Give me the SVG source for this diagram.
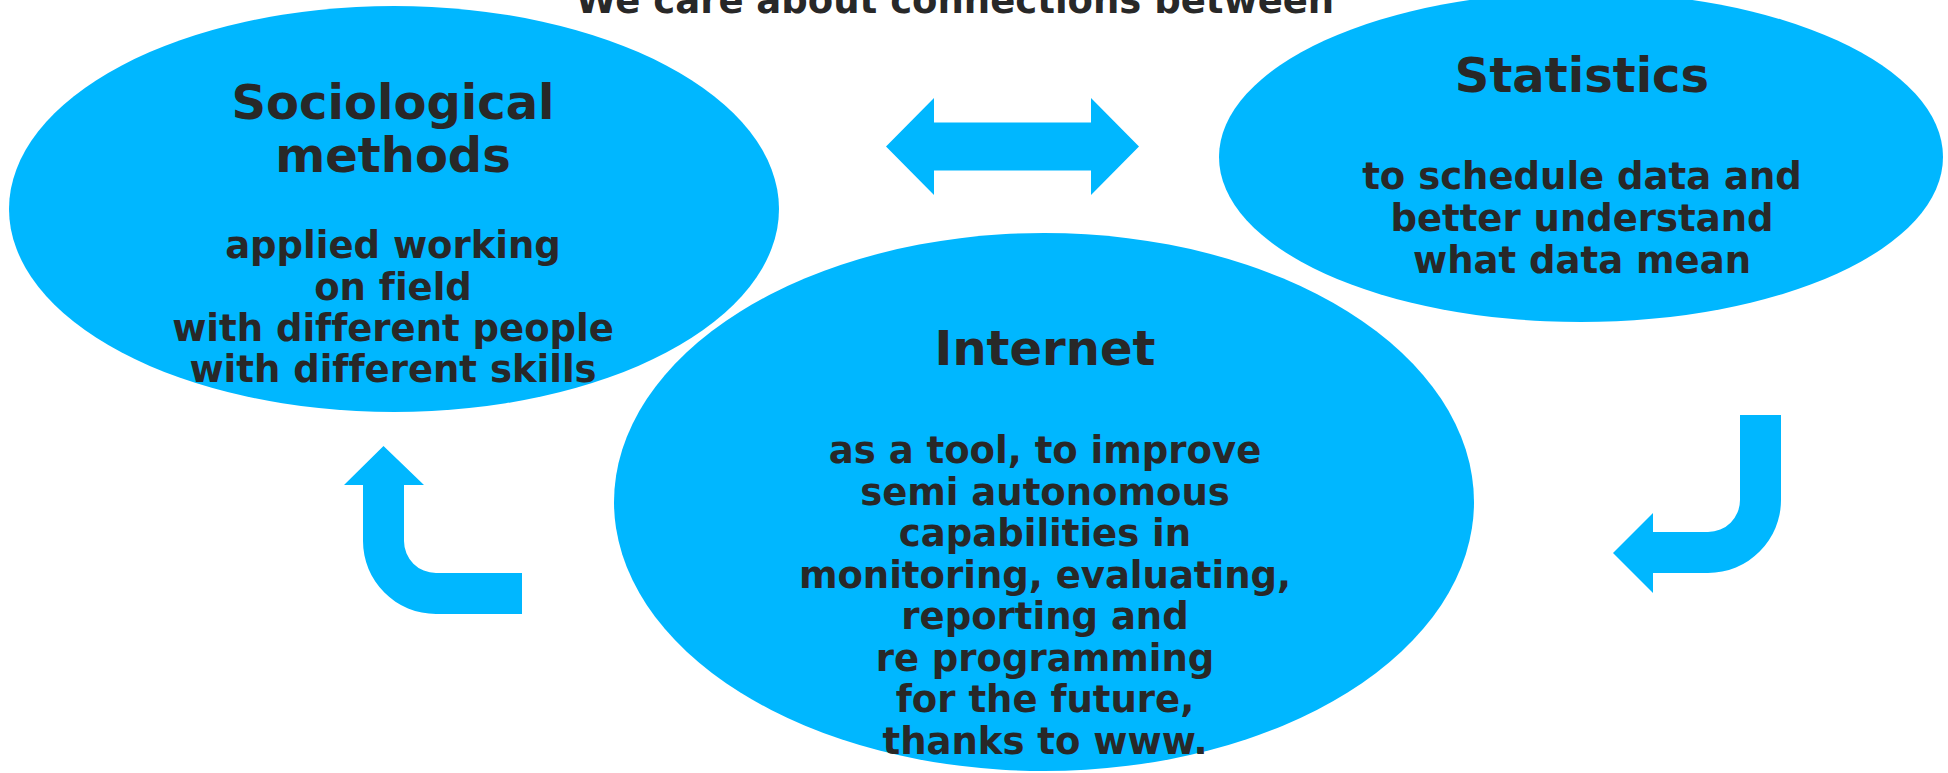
<svg xmlns="http://www.w3.org/2000/svg" width="1948" height="773" viewBox="0 0 1948 773">
<style>
.node{fill:#00B7FF}
.arrow{fill:#00B7FF}
text{font-family:"DejaVu Sans","Verdana",sans-serif;font-weight:bold;fill:#282828;text-anchor:middle;font-variant-ligatures:none;font-feature-settings:"liga" 0}
.h{font-size:48px}
.b{font-size:37px}
</style>
<rect width="1948" height="773" fill="#ffffff"/>
<text id="title" class="b" x="955" y="13">We care about connections between</text>
<g id="sociological">
<ellipse class="node" cx="394" cy="209" rx="385" ry="203"/>
<text class="h" x="393" y="119">Sociological</text>
<text class="h" x="393" y="172">methods</text>
<text class="b" x="393" y="258">applied working</text>
<text class="b" x="393" y="299.5">on field</text>
<text class="b" x="393" y="341">with different people</text>
<text class="b" x="393" y="382">with different skills</text>
</g>
<g id="statistics">
<ellipse class="node" cx="1581" cy="157" rx="362" ry="165"/>
<text class="h" x="1582" y="92">Statistics</text>
<text class="b" x="1582" y="189">to schedule data and</text>
<text class="b" x="1582" y="231">better understand</text>
<text class="b" x="1582" y="273">what data mean</text>
</g>
<g id="internet">
<ellipse class="node" cx="1044" cy="502" rx="430" ry="269"/>
<text class="h" x="1045" y="365">Internet</text>
<text class="b" x="1045" y="463">as a tool, to improve</text>
<text class="b" x="1045" y="504.5">semi autonomous</text>
<text class="b" x="1045" y="546">capabilities in</text>
<text class="b" x="1045" y="587.5">monitoring, evaluating,</text>
<text class="b" x="1045" y="629">reporting and</text>
<text class="b" x="1045" y="670.5">re programming</text>
<text class="b" x="1045" y="712">for the future,</text>
<text class="b" x="1045" y="753.5">thanks to www.</text>
</g>
<g id="connectors">
<path class="arrow" d="M886,146.5 L934,98 V122.5 H1091 V98 L1139,146.5 L1091,195 V170.5 H934 V195 Z"/>
<path class="arrow" d="M522,573 H436 A32,32 0 0 1 404,541 V485 H424 L383.5,446 L344,485 H363 V541 A73,73 0 0 0 436,614 H522 Z"/>
<path class="arrow" d="M1740,415 H1781 V500 A73,73 0 0 1 1708,573 H1653 V593 L1613,553 L1653,513 V532 H1708 A32,32 0 0 0 1740,500 Z"/>
</g>
</svg>
